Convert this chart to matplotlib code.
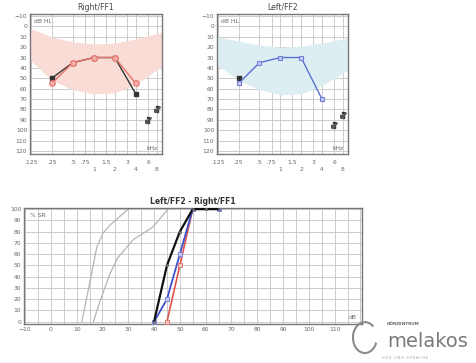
import numpy as np
import matplotlib.pyplot as plt
from matplotlib.patches import Arc

# audiogram frequencies (Hz)
freqs = [125, 250, 500, 750, 1000, 1500, 2000, 3000, 4000, 6000, 8000]
upper_labels = {125: ".125", 250: ".25", 500: ".5", 750: ".75", 1500: "1.5", 3000: "3", 6000: "6"}
lower_labels = {1000: "1", 2000: "2", 4000: "4", 8000: "8"}

# speech banana (dB HL) per ear
band_f = [122, 250, 500, 1000, 2000, 4000, 8000, 9500]
band_top_r = [2, 10, 15, 17, 16, 12, 7, 6]
band_bot_r = [32, 52, 61, 65, 64, 56, 42, 38]
band_top_l = [10, 14, 18, 20, 19, 16, 12, 11]
band_bot_l = [37, 52, 61, 66, 65, 57, 45, 42]

# Right/FF1
r_f = [250, 500, 1000, 2000, 4000]
r_aided = [55, 35, 30, 30, 55]
r_unaided = [50, 35, 30, 30, 65]
r_nr_f = [6000, 8000]
r_nr = [90, 80]

# Left/FF2
l_f = [250, 500, 1000, 2000, 4000]
l_aided = [55, 35, 30, 30, 70]
l_unaided = [50]
l_unaided_f = [250]
l_nr_f = [6000, 8000]
l_nr = [95, 85]

# speech audiometry
norm1_db = [12, 14.5, 17.8, 20.3, 23, 30]
norm1_pct = [0, 28, 66, 79, 86, 100]
norm2_db = [16.5, 19, 23, 26, 32, 39.5, 45.5]
norm2_pct = [0, 18, 43, 57, 73, 84, 100]
black_db = [40, 45, 50, 55, 60, 65]
black_pct = [0, 50, 80, 100, 100, 100]
blue_db = [40, 45, 50, 55, 65]
blue_pct = [0, 20, 60, 100, 100]
red_db = [45, 50, 55]
red_pct = [0, 50, 100]

TXT = "#666666"
GRID = "#c4c4c4"
FRAME = "#777777"


def audiogram(ax, title, fill_col, band_top, band_bot):
    ax.set_xscale("log")
    ax.set_xlim(122, 9500)
    ax.set_ylim(123, -12)
    ax.fill_between(band_f, band_top, band_bot, color=fill_col, lw=0, zorder=1)
    ax.set_yticks(np.arange(-10, 121, 10))
    ax.set_xticks(freqs)
    ax.set_xticklabels([])
    ax.minorticks_off()
    ax.tick_params(axis="x", length=0)
    ax.tick_params(axis="y", length=0, labelsize=4.3, labelcolor=TXT, pad=2)
    ax.grid(True, color=GRID, lw=0.6, zorder=0)
    ax.set_axisbelow(True)
    for s in ax.spines.values():
        s.set_color(FRAME)
        s.set_linewidth(1.0)
    tr = ax.get_xaxis_transform()
    for f, t in upper_labels.items():
        ax.text(f, -0.04, t, transform=tr, ha="center", va="top", fontsize=4.3, color=TXT)
    for f, t in lower_labels.items():
        ax.text(f, -0.09, t, transform=tr, ha="center", va="top", fontsize=4.3, color=TXT)
    ax.text(0.03, 0.965, "dB HL", transform=ax.transAxes, fontsize=4.3, color=TXT, va="top")
    ax.text(0.97, 0.03, "kHz", transform=ax.transAxes, fontsize=4.3, color=TXT, ha="right")
    ax.set_title(title, fontsize=5.5, color="#444444", pad=3)


fig = plt.figure(figsize=(4.77, 3.63), dpi=100)

ax1 = fig.add_axes([0.0629, 0.5758, 0.2767, 0.3857])
audiogram(ax1, "Right/FF1", "#f9dcd6", band_top_r, band_bot_r)
ax1.plot(r_f, r_unaided, color="#333333", lw=1.0, marker="s", ms=2.5, zorder=3)
ax1.plot(r_f, r_aided, color="#e8736a", lw=1.0, marker="o", ms=4, mfc="#f6b0a8",
         mec="#e8736a", mew=0.8, zorder=4)
ax1.plot(r_nr_f, r_nr, ls="none", marker="$]$", ms=4, color="#333333", zorder=4)
ax1.plot(r_nr_f, r_nr, ls="none", marker="$\\swarrow$", ms=4, color="#555555", zorder=4)

ax2 = fig.add_axes([0.4549, 0.5758, 0.2746, 0.3857])
audiogram(ax2, "Left/FF2", "#ddeef3", band_top_l, band_bot_l)
ax2.plot(l_unaided_f, l_unaided, ls="none", marker="s", ms=2.5, color="#333333", zorder=3)
ax2.plot(l_f, l_aided, color="#5b6fd0", lw=1.0, marker="s", ms=3.5, mfc="#c8ccf2",
         mec="#6f7ed8", mew=0.8, zorder=4)
ax2.plot(l_nr_f, l_nr, ls="none", marker="$]$", ms=4, color="#333333", zorder=4)
ax2.plot(l_nr_f, l_nr, ls="none", marker="$\\swarrow$", ms=4, color="#555555", zorder=4)

# speech audiogram
ax3 = fig.add_axes([0.0503, 0.1074, 0.7086, 0.3196])
ax3.set_xlim(-10.4, 120.6)
ax3.set_ylim(-2, 101)
ax3.set_xticks(np.arange(-10, 111, 10))
ax3.set_xticks(np.arange(-10, 121, 5), minor=True)
ax3.set_yticks(np.arange(0, 101, 10))
ax3.tick_params(which="both", length=0, labelsize=4.3, labelcolor=TXT, pad=2)
ax3.grid(True, which="both", color=GRID, lw=0.6)
ax3.set_axisbelow(True)
for s in ax3.spines.values():
    s.set_color(FRAME)
    s.set_linewidth(1.0)
ax3.text(0.018, 0.955, "% SR", transform=ax3.transAxes, fontsize=4.3, color=TXT, va="top")
ax3.text(0.985, 0.04, "dB", transform=ax3.transAxes, fontsize=4.3, color=TXT, ha="right")
ax3.set_title("Left/FF2 - Right/FF1", fontsize=5.5, color="#333333", pad=3, fontweight="bold")

ax3.plot(norm1_db, norm1_pct, color="#b5b5b5", lw=0.9)
ax3.plot(norm2_db, norm2_pct, color="#b5b5b5", lw=0.9)
ax3.plot(red_db, red_pct, color="#e0524a", lw=1.2, marker="s", ms=3, mfc="#f8c8c4",
         mec="#e07a74", mew=0.7, zorder=3)
ax3.plot(blue_db, blue_pct, color="#3f51c8", lw=1.3, marker="s", ms=3, mfc="#c8c8f4",
         mec="#7d86d8", mew=0.7, zorder=4)
ax3.plot(black_db, black_pct, color="#111111", lw=1.6, marker="s", ms=2, mfc="#888888",
         mec="#555555", mew=0.5, zorder=5)

# logo
fig.text(0.812, 0.045, "melakos", fontsize=14, color="#7a7a7a", ha="left", va="baseline")
fig.text(0.81, 0.105, "HÖRZENTRUM", fontsize=3, color="#666666", fontweight="bold")
fig.text(0.80, 0.01, "H Ö R · U N D · S P R A C H E", fontsize=2.3, color="#999999")
fig.patches.append(Arc((0.765, 0.07), 0.05, 0.085, theta1=60, theta2=330,
                       transform=fig.transFigure, color="#8a8a8a", lw=1.5, figure=fig))

fig.savefig("out.png", dpi=100)
